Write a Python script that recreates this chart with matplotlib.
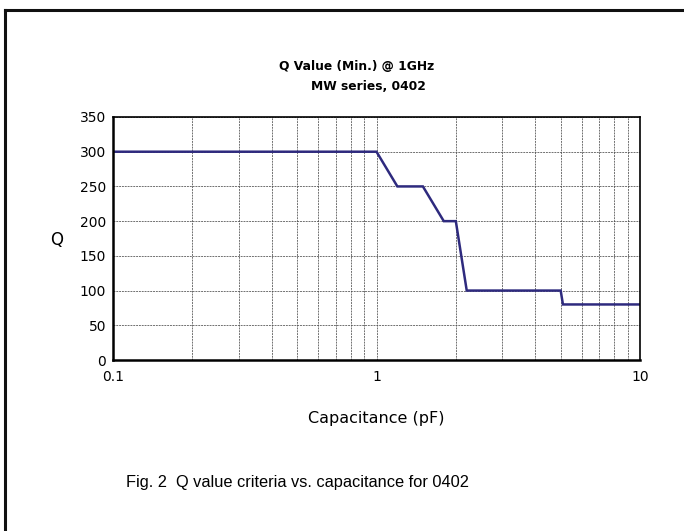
import matplotlib
matplotlib.use("Agg")
import matplotlib.pyplot as plt
from matplotlib.lines import Line2D
from matplotlib.ticker import FixedLocator, LogLocator, NullFormatter

cap_pf = [0.1, 1.0, 1.2, 1.5, 1.8, 2.0, 2.2, 5.0, 5.1, 10.0]
q_min = [300, 300, 250, 250, 200, 200, 100, 100, 80, 80]
x_ticks = [0.1, 1, 10]
x_tick_labels = ["0.1", "1", "10"]
y_ticks = [0, 50, 100, 150, 200, 250, 300, 350]

CHART_FONT = "DejaVu Sans"

W, H = 684, 531
fig = plt.figure(figsize=(W / 100, H / 100), dpi=100)
fig.patch.set_facecolor("white")

# outer frame (top and left edges visible)
fig.add_artist(Line2D([5 / W, 5 / W], [0, 1 - 10 / H], transform=fig.transFigure,
                      color="#111111", lw=2.2))
fig.add_artist(Line2D([5 / W, 1], [1 - 10 / H, 1 - 10 / H], transform=fig.transFigure,
                      color="#111111", lw=2.2))

ax = fig.add_axes([113 / W, 1 - 360 / H, (640 - 113) / W, (360 - 117) / H])
ax.plot(cap_pf, q_min, color="#2E2A7E", lw=1.8, solid_joinstyle="miter")
ax.set_xscale("log")
ax.set_xlim(0.1, 10)
ax.set_ylim(0, 350)

ax.xaxis.set_major_locator(FixedLocator(x_ticks))
ax.set_xticks(x_ticks)
ax.set_xticklabels(x_tick_labels)
ax.xaxis.set_minor_locator(LogLocator(base=10, subs=range(2, 10)))
ax.xaxis.set_minor_formatter(NullFormatter())
ax.set_yticks(y_ticks)

grid_kw = dict(color="#4a4a4a", lw=0.55, linestyle=(0, (2.5, 1.2)))
ax.grid(True, which="major", axis="both", **grid_kw)
ax.grid(True, which="minor", axis="x", **grid_kw)

ax.tick_params(axis="both", which="both", length=0, labelsize=10, colors="black")
ax.tick_params(axis="x", pad=7)
ax.tick_params(axis="y", pad=5)
for lab in ax.get_xticklabels() + ax.get_yticklabels():
    lab.set_family(CHART_FONT)

for side in ["left", "bottom"]:
    ax.spines[side].set_linewidth(1.8)
for side in ["top", "right"]:
    ax.spines[side].set_linewidth(1.2)

fig.text(357 / W, 1 - 66 / H, "Q Value (Min.) @ 1GHz", ha="center", va="center",
         fontsize=8.8, fontweight="bold", family=CHART_FONT)
fig.text(368 / W, 1 - 86 / H, "MW series, 0402", ha="center", va="center",
         fontsize=8.8, fontweight="bold", family=CHART_FONT)
fig.text(57 / W, 1 - 240 / H, "Q", ha="center", va="center", fontsize=12, family=CHART_FONT)
fig.text(376 / W, 1 - 418 / H, "Capacitance (pF)", ha="center", va="center",
         fontsize=11.5, family=CHART_FONT)
fig.text(298 / W, 1 - 483 / H, "Fig. 2  Q value criteria vs. capacitance for 0402",
         ha="center", va="center", fontsize=11.8, family="Liberation Sans")

fig.savefig("out.png", dpi=100, facecolor="white")
